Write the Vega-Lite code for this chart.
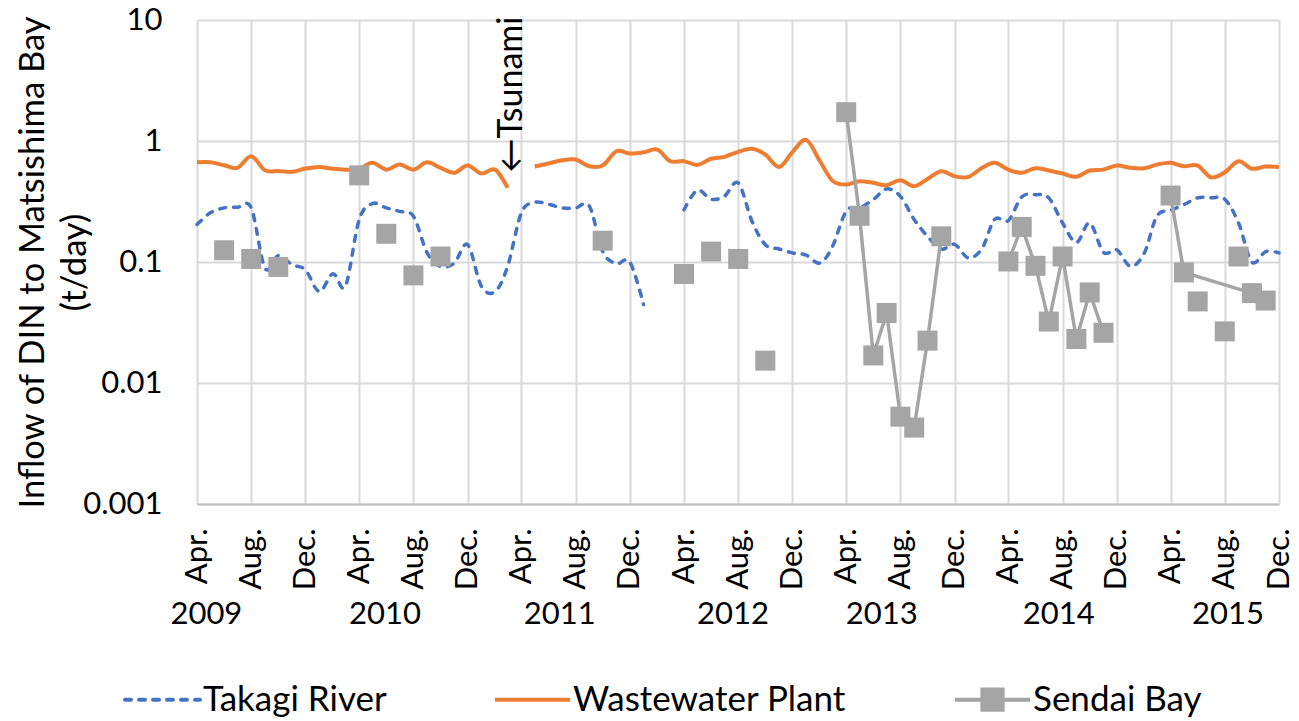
{
  "$schema": "https://vega.github.io/schema/vega-lite/v6.json",
  "width": 1082,
  "height": 484,
  "autosize": "none",
  "padding": {"left": 197, "top": 20, "right": 20, "bottom": 217},
  "background": "white",
  "config": {
    "font": "Lato",
    "view": {"stroke": null},
    "axis": {"labelFont": "Lato", "titleFont": "Lato", "labelColor": "#000000", "titleColor": "#000000"}
  },
  "datasets": {
    "takagi": [
      {"date": "2009-04-01", "value": 0.204, "seg": "a"},
      {"date": "2009-05-01", "value": 0.255, "seg": "a"},
      {"date": "2009-06-01", "value": 0.280, "seg": "a"},
      {"date": "2009-07-01", "value": 0.283, "seg": "a"},
      {"date": "2009-08-01", "value": 0.280, "seg": "a"},
      {"date": "2009-09-01", "value": 0.089, "seg": "a"},
      {"date": "2009-10-01", "value": 0.113, "seg": "a"},
      {"date": "2009-11-01", "value": 0.095, "seg": "a"},
      {"date": "2009-12-01", "value": 0.086, "seg": "a"},
      {"date": "2010-01-01", "value": 0.057, "seg": "a"},
      {"date": "2010-02-01", "value": 0.080, "seg": "a"},
      {"date": "2010-03-01", "value": 0.063, "seg": "a"},
      {"date": "2010-04-01", "value": 0.224, "seg": "a"},
      {"date": "2010-05-01", "value": 0.304, "seg": "a"},
      {"date": "2010-06-01", "value": 0.280, "seg": "a"},
      {"date": "2010-07-01", "value": 0.262, "seg": "a"},
      {"date": "2010-08-01", "value": 0.239, "seg": "a"},
      {"date": "2010-09-01", "value": 0.119, "seg": "a"},
      {"date": "2010-10-01", "value": 0.092, "seg": "a"},
      {"date": "2010-11-01", "value": 0.098, "seg": "a"},
      {"date": "2010-12-01", "value": 0.139, "seg": "a"},
      {"date": "2011-01-01", "value": 0.063, "seg": "a"},
      {"date": "2011-02-01", "value": 0.057, "seg": "a"},
      {"date": "2011-03-01", "value": 0.092, "seg": "a"},
      {"date": "2011-04-01", "value": 0.255, "seg": "a"},
      {"date": "2011-05-01", "value": 0.311, "seg": "a"},
      {"date": "2011-06-01", "value": 0.300, "seg": "a"},
      {"date": "2011-07-01", "value": 0.280, "seg": "a"},
      {"date": "2011-08-01", "value": 0.280, "seg": "a"},
      {"date": "2011-09-01", "value": 0.290, "seg": "a"},
      {"date": "2011-10-01", "value": 0.122, "seg": "a"},
      {"date": "2011-11-01", "value": 0.097, "seg": "a"},
      {"date": "2011-12-01", "value": 0.100, "seg": "a"},
      {"date": "2012-01-01", "value": 0.0444, "seg": "a"},
      {"date": "2012-04-01", "value": 0.270, "seg": "b"},
      {"date": "2012-05-01", "value": 0.392, "seg": "b"},
      {"date": "2012-06-01", "value": 0.330, "seg": "b"},
      {"date": "2012-07-01", "value": 0.350, "seg": "b"},
      {"date": "2012-08-01", "value": 0.450, "seg": "b"},
      {"date": "2012-09-01", "value": 0.217, "seg": "b"},
      {"date": "2012-10-01", "value": 0.139, "seg": "b"},
      {"date": "2012-11-01", "value": 0.128, "seg": "b"},
      {"date": "2012-12-01", "value": 0.119, "seg": "b"},
      {"date": "2013-01-01", "value": 0.114, "seg": "b"},
      {"date": "2013-02-01", "value": 0.098, "seg": "b"},
      {"date": "2013-03-01", "value": 0.134, "seg": "b"},
      {"date": "2013-04-01", "value": 0.263, "seg": "b"},
      {"date": "2013-05-01", "value": 0.280, "seg": "b"},
      {"date": "2013-06-01", "value": 0.328, "seg": "b"},
      {"date": "2013-07-01", "value": 0.402, "seg": "b"},
      {"date": "2013-08-01", "value": 0.349, "seg": "b"},
      {"date": "2013-09-01", "value": 0.224, "seg": "b"},
      {"date": "2013-10-01", "value": 0.163, "seg": "b"},
      {"date": "2013-11-01", "value": 0.128, "seg": "b"},
      {"date": "2013-12-01", "value": 0.140, "seg": "b"},
      {"date": "2014-01-01", "value": 0.108, "seg": "b"},
      {"date": "2014-02-01", "value": 0.130, "seg": "b"},
      {"date": "2014-03-01", "value": 0.225, "seg": "b"},
      {"date": "2014-04-01", "value": 0.220, "seg": "b"},
      {"date": "2014-05-01", "value": 0.345, "seg": "b"},
      {"date": "2014-06-01", "value": 0.360, "seg": "b"},
      {"date": "2014-07-01", "value": 0.339, "seg": "b"},
      {"date": "2014-08-01", "value": 0.210, "seg": "b"},
      {"date": "2014-09-01", "value": 0.145, "seg": "b"},
      {"date": "2014-10-01", "value": 0.210, "seg": "b"},
      {"date": "2014-11-01", "value": 0.120, "seg": "b"},
      {"date": "2014-12-01", "value": 0.126, "seg": "b"},
      {"date": "2015-01-01", "value": 0.092, "seg": "b"},
      {"date": "2015-02-01", "value": 0.119, "seg": "b"},
      {"date": "2015-03-01", "value": 0.239, "seg": "b"},
      {"date": "2015-04-01", "value": 0.267, "seg": "b"},
      {"date": "2015-05-01", "value": 0.298, "seg": "b"},
      {"date": "2015-06-01", "value": 0.339, "seg": "b"},
      {"date": "2015-07-01", "value": 0.339, "seg": "b"},
      {"date": "2015-08-01", "value": 0.330, "seg": "b"},
      {"date": "2015-09-01", "value": 0.210, "seg": "b"},
      {"date": "2015-10-01", "value": 0.100, "seg": "b"},
      {"date": "2015-11-01", "value": 0.122, "seg": "b"},
      {"date": "2015-12-01", "value": 0.119, "seg": "b"}
    ],
    "wastewater": [
      {"date": "2009-04-01", "value": 0.667, "seg": "a"},
      {"date": "2009-05-01", "value": 0.667, "seg": "a"},
      {"date": "2009-06-01", "value": 0.631, "seg": "a"},
      {"date": "2009-07-01", "value": 0.600, "seg": "a"},
      {"date": "2009-08-01", "value": 0.748, "seg": "a"},
      {"date": "2009-09-01", "value": 0.573, "seg": "a"},
      {"date": "2009-10-01", "value": 0.566, "seg": "a"},
      {"date": "2009-11-01", "value": 0.556, "seg": "a"},
      {"date": "2009-12-01", "value": 0.592, "seg": "a"},
      {"date": "2010-01-01", "value": 0.611, "seg": "a"},
      {"date": "2010-02-01", "value": 0.589, "seg": "a"},
      {"date": "2010-03-01", "value": 0.580, "seg": "a"},
      {"date": "2010-04-01", "value": 0.589, "seg": "a"},
      {"date": "2010-05-01", "value": 0.661, "seg": "a"},
      {"date": "2010-06-01", "value": 0.580, "seg": "a"},
      {"date": "2010-07-01", "value": 0.638, "seg": "a"},
      {"date": "2010-08-01", "value": 0.580, "seg": "a"},
      {"date": "2010-09-01", "value": 0.667, "seg": "a"},
      {"date": "2010-10-01", "value": 0.600, "seg": "a"},
      {"date": "2010-11-01", "value": 0.546, "seg": "a"},
      {"date": "2010-12-01", "value": 0.627, "seg": "a"},
      {"date": "2011-01-01", "value": 0.538, "seg": "a"},
      {"date": "2011-02-01", "value": 0.580, "seg": "a"},
      {"date": "2011-03-01", "value": 0.410, "seg": "a"},
      {"date": "2011-05-01", "value": 0.615, "seg": "b"},
      {"date": "2011-06-01", "value": 0.652, "seg": "b"},
      {"date": "2011-07-01", "value": 0.693, "seg": "b"},
      {"date": "2011-08-01", "value": 0.703, "seg": "b"},
      {"date": "2011-09-01", "value": 0.618, "seg": "b"},
      {"date": "2011-10-01", "value": 0.627, "seg": "b"},
      {"date": "2011-11-01", "value": 0.823, "seg": "b"},
      {"date": "2011-12-01", "value": 0.788, "seg": "b"},
      {"date": "2012-01-01", "value": 0.807, "seg": "b"},
      {"date": "2012-02-01", "value": 0.850, "seg": "b"},
      {"date": "2012-03-01", "value": 0.681, "seg": "b"},
      {"date": "2012-04-01", "value": 0.681, "seg": "b"},
      {"date": "2012-05-01", "value": 0.635, "seg": "b"},
      {"date": "2012-06-01", "value": 0.713, "seg": "b"},
      {"date": "2012-07-01", "value": 0.740, "seg": "b"},
      {"date": "2012-08-01", "value": 0.814, "seg": "b"},
      {"date": "2012-09-01", "value": 0.862, "seg": "b"},
      {"date": "2012-10-01", "value": 0.773, "seg": "b"},
      {"date": "2012-11-01", "value": 0.610, "seg": "b"},
      {"date": "2012-12-01", "value": 0.810, "seg": "b"},
      {"date": "2013-01-01", "value": 1.020, "seg": "b"},
      {"date": "2013-02-01", "value": 0.680, "seg": "b"},
      {"date": "2013-03-01", "value": 0.470, "seg": "b"},
      {"date": "2013-04-01", "value": 0.436, "seg": "b"},
      {"date": "2013-05-01", "value": 0.465, "seg": "b"},
      {"date": "2013-06-01", "value": 0.451, "seg": "b"},
      {"date": "2013-07-01", "value": 0.431, "seg": "b"},
      {"date": "2013-08-01", "value": 0.473, "seg": "b"},
      {"date": "2013-09-01", "value": 0.423, "seg": "b"},
      {"date": "2013-10-01", "value": 0.486, "seg": "b"},
      {"date": "2013-11-01", "value": 0.562, "seg": "b"},
      {"date": "2013-12-01", "value": 0.511, "seg": "b"},
      {"date": "2014-01-01", "value": 0.506, "seg": "b"},
      {"date": "2014-02-01", "value": 0.600, "seg": "b"},
      {"date": "2014-03-01", "value": 0.660, "seg": "b"},
      {"date": "2014-04-01", "value": 0.580, "seg": "b"},
      {"date": "2014-05-01", "value": 0.546, "seg": "b"},
      {"date": "2014-06-01", "value": 0.596, "seg": "b"},
      {"date": "2014-07-01", "value": 0.570, "seg": "b"},
      {"date": "2014-08-01", "value": 0.538, "seg": "b"},
      {"date": "2014-09-01", "value": 0.506, "seg": "b"},
      {"date": "2014-10-01", "value": 0.570, "seg": "b"},
      {"date": "2014-11-01", "value": 0.580, "seg": "b"},
      {"date": "2014-12-01", "value": 0.627, "seg": "b"},
      {"date": "2015-01-01", "value": 0.600, "seg": "b"},
      {"date": "2015-02-01", "value": 0.596, "seg": "b"},
      {"date": "2015-03-01", "value": 0.638, "seg": "b"},
      {"date": "2015-04-01", "value": 0.660, "seg": "b"},
      {"date": "2015-05-01", "value": 0.618, "seg": "b"},
      {"date": "2015-06-01", "value": 0.627, "seg": "b"},
      {"date": "2015-07-01", "value": 0.501, "seg": "b"},
      {"date": "2015-08-01", "value": 0.552, "seg": "b"},
      {"date": "2015-09-01", "value": 0.681, "seg": "b"},
      {"date": "2015-10-01", "value": 0.590, "seg": "b"},
      {"date": "2015-11-01", "value": 0.615, "seg": "b"},
      {"date": "2015-12-01", "value": 0.610, "seg": "b"}
    ],
    "sendai": [
      {"date": "2009-06-01", "value": 0.125, "seg": null},
      {"date": "2009-08-01", "value": 0.106, "seg": null},
      {"date": "2009-10-01", "value": 0.091, "seg": null},
      {"date": "2010-04-01", "value": 0.52, "seg": null},
      {"date": "2010-06-01", "value": 0.171, "seg": null},
      {"date": "2010-08-01", "value": 0.0775, "seg": null},
      {"date": "2010-10-01", "value": 0.111, "seg": null},
      {"date": "2011-10-01", "value": 0.150, "seg": null},
      {"date": "2012-04-01", "value": 0.0796, "seg": null},
      {"date": "2012-06-01", "value": 0.122, "seg": null},
      {"date": "2012-08-01", "value": 0.106, "seg": null},
      {"date": "2012-10-01", "value": 0.0153, "seg": null},
      {"date": "2013-04-01", "value": 1.73, "seg": "a"},
      {"date": "2013-05-01", "value": 0.241, "seg": "a"},
      {"date": "2013-06-01", "value": 0.0169, "seg": "a"},
      {"date": "2013-07-01", "value": 0.0379, "seg": "a"},
      {"date": "2013-08-01", "value": 0.00527, "seg": "a"},
      {"date": "2013-09-01", "value": 0.00428, "seg": "a"},
      {"date": "2013-10-01", "value": 0.0224, "seg": "a"},
      {"date": "2013-11-01", "value": 0.163, "seg": "a"},
      {"date": "2014-04-01", "value": 0.101, "seg": "b"},
      {"date": "2014-05-01", "value": 0.195, "seg": "b"},
      {"date": "2014-06-01", "value": 0.093, "seg": "b"},
      {"date": "2014-07-01", "value": 0.0322, "seg": "b"},
      {"date": "2014-08-01", "value": 0.111, "seg": "b"},
      {"date": "2014-09-01", "value": 0.0231, "seg": "b"},
      {"date": "2014-10-01", "value": 0.056, "seg": "b"},
      {"date": "2014-11-01", "value": 0.026, "seg": "b"},
      {"date": "2015-04-01", "value": 0.354, "seg": "c"},
      {"date": "2015-05-01", "value": 0.082, "seg": "c"},
      {"date": "2015-06-01", "value": 0.0472, "seg": null},
      {"date": "2015-08-01", "value": 0.0267, "seg": null},
      {"date": "2015-09-01", "value": 0.111, "seg": null},
      {"date": "2015-10-01", "value": 0.0553, "seg": "c"},
      {"date": "2015-11-01", "value": 0.048, "seg": null}
    ],
    "annotation": [
      {"date": "2011-03-11", "value": 0.55, "label": "←Tsunami"}
    ]
  },
  "layer": [
    {
      "data": {"name": "takagi"},
      "mark": {"type": "line", "strokeWidth": 3.5, "strokeDash": [6, 8], "strokeCap": "round", "interpolate": "cardinal", "tension": 0},
      "encoding": {
        "x": {
          "field": "date", "type": "temporal",
          "scale": {"type": "utc", "domain": [{"year": 2009, "month": 4, "date": 1, "utc": true}, {"year": 2015, "month": 12, "date": 1, "utc": true}]},
          "axis": {
            "title": null,
            "orient": "bottom",
            "values": [
              {"year": 2009, "month": 4, "date": 1, "utc": true}, {"year": 2009, "month": 8, "date": 1, "utc": true}, {"year": 2009, "month": 12, "date": 1, "utc": true},
              {"year": 2010, "month": 4, "date": 1, "utc": true}, {"year": 2010, "month": 8, "date": 1, "utc": true}, {"year": 2010, "month": 12, "date": 1, "utc": true},
              {"year": 2011, "month": 4, "date": 1, "utc": true}, {"year": 2011, "month": 8, "date": 1, "utc": true}, {"year": 2011, "month": 12, "date": 1, "utc": true},
              {"year": 2012, "month": 4, "date": 1, "utc": true}, {"year": 2012, "month": 8, "date": 1, "utc": true}, {"year": 2012, "month": 12, "date": 1, "utc": true},
              {"year": 2013, "month": 4, "date": 1, "utc": true}, {"year": 2013, "month": 8, "date": 1, "utc": true}, {"year": 2013, "month": 12, "date": 1, "utc": true},
              {"year": 2014, "month": 4, "date": 1, "utc": true}, {"year": 2014, "month": 8, "date": 1, "utc": true}, {"year": 2014, "month": 12, "date": 1, "utc": true},
              {"year": 2015, "month": 4, "date": 1, "utc": true}, {"year": 2015, "month": 8, "date": 1, "utc": true}, {"year": 2015, "month": 12, "date": 1, "utc": true}
            ],
            "labelExpr": "utcFormat(datum.value, '%b') + '.'",
            "labelAngle": -90,
            "labelFontSize": 31,
            "labelPadding": 24,
            "labelOverlap": false,
            "labelFlush": false,
            "ticks": false,
            "grid": true,
            "gridColor": "#D9D9D9",
            "gridWidth": 2,
            "domainColor": "#BFBFBF",
            "domainWidth": 2
          }
        },
        "y": {
          "field": "value", "type": "quantitative",
          "scale": {"type": "log", "domain": [0.001, 10]},
          "axis": {
            "title": ["Inflow of DIN to Matsishima Bay", "(t/day)"],
            "titleFontSize": 34.5,
            "titleFontWeight": "normal",
            "titleAngle": -90,
            "titleX": -164,
            "titleY": 242,
            "titleAlign": "center",
            "titleBaseline": "middle",
            "titleLineHeight": 42,
            "values": [0.001, 0.01, 0.1, 1, 10],
            "labelExpr": "'' + datum.value",
            "labelFontSize": 31,
            "labelPadding": 35,
            "labelOverlap": false,
            "labelFlush": false,
            "ticks": false,
            "domain": false,
            "grid": true,
            "gridColor": "#D9D9D9",
            "gridWidth": 2
          }
        },
        "detail": {"field": "seg", "type": "nominal"},
        "color": {
          "datum": "Takagi River",
          "type": "nominal",
          "scale": {"domain": ["Takagi River", "Wastewater Plant", "Sendai Bay"], "range": ["#4472C4", "#ED7D31", "#A5A5A5"]},
          "legend": {
            "orient": "none",
            "legendX": -74,
            "legendY": 640,
            "direction": "horizontal",
            "title": null,
            "padding": 0,
            "labelFontSize": 35,
            "labelFont": "Lato",
            "labelColor": "#000000",
            "labelLimit": 500,
            "labelOffset": 1,
            "symbolSize": 5625,
            "symbolStrokeWidth": 4,
            "symbolType": "stroke",
            "columnPadding": 100,
            "encode": {
              "symbols": {
                "update": {
                  "shape": {"signal": "datum.value === 'Sendai Bay' ? 'M-1,0L1,0M-0.27,-0.27L0.27,-0.27L0.27,0.27L-0.27,0.27Z' : 'M-1,0L1,0'"},
                  "fill": {"signal": "datum.value === 'Sendai Bay' ? '#A5A5A5' : 'transparent'"},
                  "strokeDash": {"signal": "datum.value === 'Takagi River' ? [6, 8] : [1, 0]"},
                  "strokeCap": {"signal": "datum.value === 'Takagi River' ? 'round' : 'butt'"}
                }
              }
            }
          }
        }
      }
    },
    {
      "data": {"name": "wastewater"},
      "mark": {"type": "line", "strokeWidth": 4, "interpolate": "cardinal", "tension": 0},
      "encoding": {
        "x": {"field": "date", "type": "temporal", "axis": null},
        "y": {"field": "value", "type": "quantitative"},
        "detail": {"field": "seg", "type": "nominal"},
        "color": {"datum": "Wastewater Plant", "type": "nominal"}
      }
    },
    {
      "data": {"name": "sendai"},
      "transform": [{"filter": "datum.seg != null"}],
      "mark": {"type": "line", "strokeWidth": 3.5},
      "encoding": {
        "x": {"field": "date", "type": "temporal", "axis": null},
        "y": {"field": "value", "type": "quantitative"},
        "detail": {"field": "seg", "type": "nominal"},
        "color": {"datum": "Sendai Bay", "type": "nominal"}
      }
    },
    {
      "data": {"name": "sendai"},
      "mark": {"type": "point", "shape": "square", "filled": true, "size": 400, "color": "#A5A5A5", "opacity": 1},
      "encoding": {
        "x": {"field": "date", "type": "temporal", "axis": null},
        "y": {"field": "value", "type": "quantitative"}
      }
    },
    {
      "data": {"name": "annotation"},
      "mark": {"type": "text", "angle": 270, "align": "left", "baseline": "middle", "fontSize": 34, "font": "Lato", "color": "#000000"},
      "encoding": {
        "x": {"field": "date", "type": "temporal", "axis": null},
        "y": {"field": "value", "type": "quantitative"},
        "text": {"field": "label", "type": "nominal"}
      }
    },
    {
      "data": {"name": "takagi"},
      "mark": {"type": "point", "opacity": 0},
      "encoding": {
        "x": {
          "field": "date", "type": "temporal",
          "axis": {
            "title": null,
            "orient": "bottom",
            "values": [
              {"year": 2009, "month": 4, "date": 21, "utc": true},
              {"year": 2010, "month": 5, "date": 28, "utc": true},
              {"year": 2011, "month": 6, "date": 25, "utc": true},
              {"year": 2012, "month": 7, "date": 19, "utc": true},
              {"year": 2013, "month": 6, "date": 19, "utc": true},
              {"year": 2014, "month": 7, "date": 22, "utc": true},
              {"year": 2015, "month": 8, "date": 7, "utc": true}
            ],
            "labelExpr": "utcFormat(datum.value, '%Y')",
            "labelAngle": 0,
            "labelFontSize": 31,
            "labelPadding": 95,
            "labelOverlap": false,
            "labelFlush": false,
            "ticks": false,
            "domain": false,
            "grid": false
          }
        }
      }
    }
  ],
  "resolve": {"axis": {"x": "independent"}}
}
